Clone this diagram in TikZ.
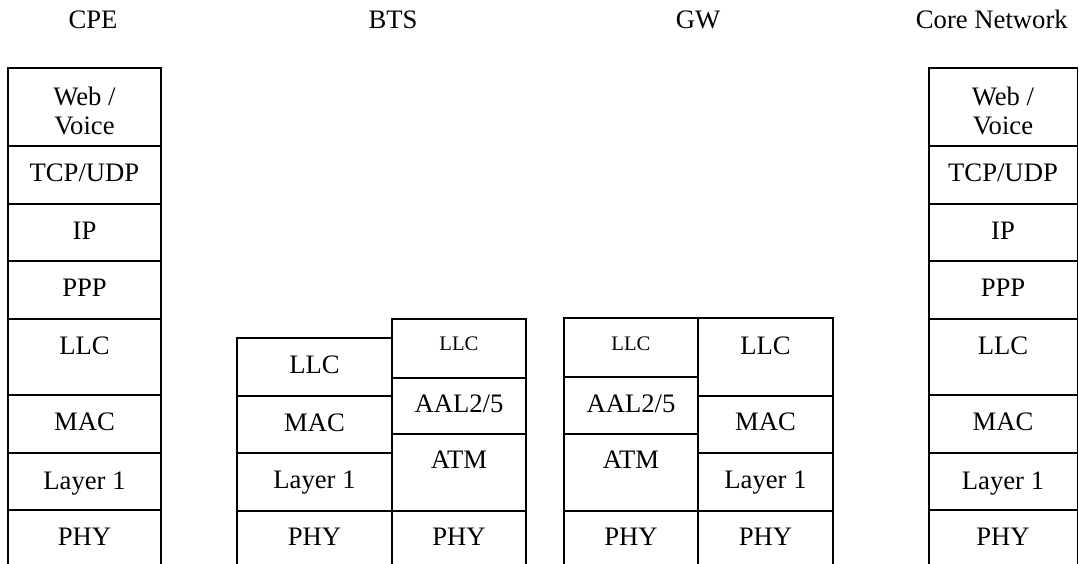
\documentclass[tikz,border=0pt]{standalone}
\usepackage{fontspec}
\setmainfont{Liberation Serif}
\begin{document}
\begin{tikzpicture}[x=0.75pt,y=-0.75pt,
  frame/.style={line width=1.4pt},
  lbl/.style={anchor=base, inner sep=0pt, align=center, font=\fontsize{20}{21.75}\selectfont},
  smalllbl/.style={anchor=base, inner sep=0pt, font=\fontsize{15.5}{18}\selectfont}]
\useasboundingbox (0,0) rectangle (1079,564);

% headers
\node[lbl] (hcpe) at (93,28) {CPE};
\node[lbl] (hbts) at (393,28) {BTS};
\node[lbl] (hgw) at (698,28) {GW};
\node[lbl, anchor=base east] (hcore) at (1068,28) {Core Network};

% CPE stack
\draw[frame] (8,564) -- (8,68) -- (161,68) -- (161,564);
\foreach \y in {146,204,261,319,395,453,510} \draw[frame] (8,\y) -- (161,\y);
\node[lbl] (cweb) at (84.5,134) {Web /\\Voice};
\node[lbl] (ctcp) at (84.5,181) {TCP/UDP};
\node[lbl] (cip) at (84.5,239) {IP};
\node[lbl] (cppp) at (84.5,296) {PPP};
\node[lbl] (cllc) at (84.5,354) {LLC};
\node[lbl] (cmac) at (84.5,430) {MAC};
\node[lbl] (cl1) at (84.5,489) {Layer 1};
\node[lbl] (cphy) at (84.5,545) {PHY};

% Core Network stack
\draw[frame] (929,564) -- (929,68) -- (1077.5,68) -- (1077.5,564);
\foreach \y in {146,204,261,319,395,453,510} \draw[frame] (929,\y) -- (1077.5,\y);
\node[lbl] (nweb) at (1003,134) {Web /\\Voice};
\node[lbl] (ntcp) at (1003,181) {TCP/UDP};
\node[lbl] (nip) at (1003,239) {IP};
\node[lbl] (nppp) at (1003,296) {PPP};
\node[lbl] (nllc) at (1003,354) {LLC};
\node[lbl] (nmac) at (1003,430) {MAC};
\node[lbl] (nl1) at (1003,489) {Layer 1};
\node[lbl] (nphy) at (1003,545) {PHY};

% BTS left stack
\draw[frame] (237,564) -- (237,338) -- (392,338);
\foreach \y in {396,453,511} \draw[frame] (237,\y) -- (392,\y);
\node[lbl] (bllc) at (314.5,373) {LLC};
\node[lbl] (bmac) at (314.5,431) {MAC};
\node[lbl] (bl1) at (314.5,488) {Layer 1};
\node[lbl] (bphy) at (314.5,545) {PHY};

% BTS right stack
\draw[frame] (392,564) -- (392,319) -- (526,319) -- (526,564);
\foreach \y in {378,434,511} \draw[frame] (392,\y) -- (526,\y);
\node[smalllbl] (bsllc) at (459,350) {LLC};
\node[lbl] (baal) at (459,412) {AAL2/5};
\node[lbl] (batm) at (459,468) {ATM};
\node[lbl] (bphy2) at (459,545) {PHY};

% GW left stack
\draw[frame] (564,564) -- (564,318) -- (833,318) -- (833,564);
\draw[frame] (698,318) -- (698,564);
\foreach \y in {377,434,511} \draw[frame] (564,\y) -- (698,\y);
\node[smalllbl] (gsllc) at (631,350) {LLC};
\node[lbl] (gaal) at (631,412) {AAL2/5};
\node[lbl] (gatm) at (631,468) {ATM};
\node[lbl] (gphy) at (631,545) {PHY};

% GW right stack
\foreach \y in {396,453,511} \draw[frame] (698,\y) -- (833,\y);
\node[lbl] (gllc) at (765.5,354) {LLC};
\node[lbl] (gmac) at (765.5,430) {MAC};
\node[lbl] (gl1) at (765.5,488) {Layer 1};
\node[lbl] (gphy2) at (765.5,545) {PHY};
\end{tikzpicture}
\end{document}
